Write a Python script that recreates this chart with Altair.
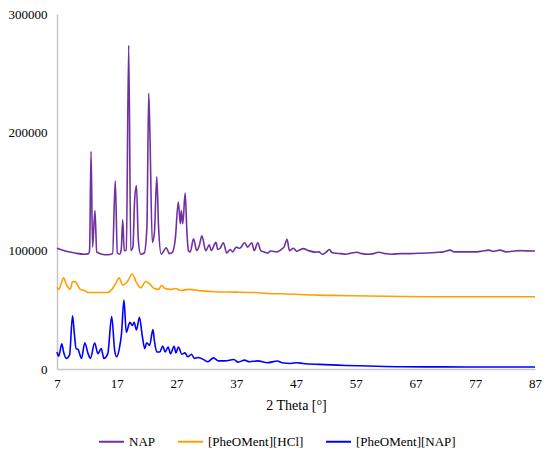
import altair as alt
import pandas as pd

series_names = ["NAP", "[PheOMent][HCl]", "[PheOMent][NAP]"]
series_colors = ["#7030A0", "#FFA000", "#0000FF"]

nap_theta = [7.0, 8.5, 10.0, 11.5, 12.3, 12.45, 12.7, 12.95, 13.35, 13.65, 14.5, 15.5, 16.3, 16.75, 17.1,
             17.5, 17.75, 18.0, 18.25, 18.6, 19.0, 19.35, 19.7, 20.0, 20.3, 20.6, 21.0, 21.6, 22.05, 22.35,
             22.55, 22.95, 23.3, 23.7, 24.0, 24.45, 25.3, 25.8, 26.3, 26.8, 27.3, 27.65, 27.8, 28.05, 28.45,
             28.75, 29.0, 29.3, 29.85, 30.4, 30.8, 31.25, 31.9, 32.5, 32.8, 33.6, 33.9, 34.3, 34.85, 35.4,
             36.0, 36.4, 37.0, 37.6, 38.4, 38.9, 39.6, 40.0, 40.6, 41.1, 41.6, 42.2, 42.8, 43.8, 44.4,
             44.7, 45.0, 45.5, 45.9, 46.6, 47.1, 47.6, 48.2, 49.1, 50.2, 50.8, 51.4, 52.0, 52.6, 53.0,
             53.4, 54.5, 55.3, 56.3, 57.2, 58.0, 59.1, 60.0, 60.8, 62.0, 63.0, 64.5, 65.7, 67.5, 69.0,
             70.5, 71.7, 72.8, 73.4, 75.0, 76.8, 78.0, 79.3, 80.0, 81.1, 82.2, 83.2, 84.4, 85.5, 87.0]
nap_value = [102000, 99500, 98000, 97000, 97500, 100000, 184000, 103000, 134000, 99000, 97000, 96500, 97500, 159000, 98000,
             97000, 101000, 126000, 100000, 100500, 273600, 100000, 103000, 143600, 155000, 110000, 97000, 98000, 120000, 233000,
             199000, 107000, 115000, 162500, 120000, 97000, 102500, 97500, 98500, 110000, 141000, 122700, 134000, 122700, 148600,
             115000, 100000, 99000, 110000, 100000, 104000, 112500, 100000, 105000, 100000, 107000, 101000, 102000, 106700, 98000,
             101000, 99000, 103000, 102000, 106700, 103000, 106700, 100000, 106700, 100000, 99000, 98000, 99700, 99000, 100500,
             101700, 103000, 109700, 100000, 102000, 99500, 100500, 101700, 100000, 98800, 99000, 97000, 98500, 101000, 98500,
             98000, 97500, 97000, 98000, 98600, 97500, 97000, 97500, 98600, 97500, 97000, 97500, 97500, 97800, 98000,
             98500, 99000, 100500, 99000, 99000, 99000, 99500, 100500, 99500, 100500, 99000, 99500, 100000, 99800, 99700]

hcl_theta = [7.0, 7.3, 7.7, 8.1, 8.6, 9.2, 9.6, 10.1, 10.5, 10.9, 11.6, 12.2, 13.7, 15.4, 16.2, 16.8, 17.4,
             18.0, 18.8, 19.6, 20.2, 21.0, 21.85, 22.5, 23.3, 24.0, 24.5, 25.1, 26.0, 26.9, 27.7, 29.1,
             31.3, 33.5, 36.8, 40.1, 42.8, 44.4, 48.2, 53.0, 59.1, 65.0, 70.1, 78.0, 87.0]
hcl_value = [69000, 67300, 72000, 77000, 71000, 67300, 74000, 73500, 70500, 67300, 66400, 64700, 64700, 64700, 67300, 72000, 77000,
             71000, 74000, 80300, 74000, 68600, 74000, 72000, 68000, 67300, 70800, 68000, 67300, 68000, 66400, 67300,
             66000, 65300, 65000, 64700, 63600, 63600, 62800, 62200, 61700, 61300, 61100, 61100, 61100]

mix_theta = [7.0, 7.3, 7.8, 8.1, 8.55, 9.1, 9.6, 9.9, 10.2, 10.5, 11.1, 11.65, 12.2, 12.6, 13.3, 13.85, 14.4,
             14.85, 15.5, 16.15, 16.65, 17.0, 17.45, 17.8, 18.2, 18.6, 19.2, 19.6, 19.9, 20.3, 20.8, 21.3,
             21.7, 22.0, 22.5, 23.05, 23.3, 23.7, 24.2, 24.7, 25.1, 25.6, 26.0, 26.6, 26.9, 27.3, 27.9,
             28.4, 28.9, 29.5, 30.0, 30.6, 31.7, 32.2, 33.2, 34.0, 35.1, 36.6, 37.3, 38.4, 39.2, 40.6,
             42.2, 43.9, 44.7, 46.1, 47.1, 48.2, 50.9, 55.3, 59.1, 64.6, 70.0, 75.5, 87.0]
mix_value = [14400, 10800, 21400, 14400, 9000, 11700, 45000, 30000, 17200, 16700, 9000, 22200, 13000, 9000, 22000, 13000, 17200,
             9000, 13000, 44400, 15800, 10300, 17800, 30000, 58300, 31100, 39400, 36700, 39400, 33000, 43600, 26900,
             17200, 22200, 20000, 33300, 24000, 14400, 14400, 19400, 14400, 18600, 13000, 19200, 13600, 18600, 12500,
             13600, 10300, 12500, 9000, 9700, 7500, 6100, 9400, 6900, 6900, 8000, 5800, 7500, 6100, 6900,
             5300, 6700, 5300, 4700, 5300, 4700, 3900, 3000, 2500, 1900, 1800, 1700, 1700]

rows = []
for name, th, vals in zip(series_names, [nap_theta, hcl_theta, mix_theta], [nap_value, hcl_value, mix_value]):
    for i, (t, v) in enumerate(zip(th, vals)):
        rows.append({"theta": t, "intensity": v, "series": name, "order": i})
df = pd.DataFrame(rows)

x_ticks = [7, 17, 27, 37, 47, 57, 67, 77, 87]
y_ticks = [0, 100000, 200000, 300000]

FONT = "Liberation Serif"

chart = alt.Chart(df).mark_line(strokeWidth=1.6, interpolate="monotone").encode(
    x=alt.X("theta:Q", title="2 Theta [°]",
            scale=alt.Scale(domain=[7, 87], nice=False),
            axis=alt.Axis(values=x_ticks, format="d", grid=False, ticks=False,
                          labelFlush=False, labelPadding=8, domainColor="#C8C8C8", domainWidth=1.5,
                          titlePadding=8, labelFont=FONT, titleFont=FONT)),
    y=alt.Y("intensity:Q", title=None,
            scale=alt.Scale(domain=[0, 300000], nice=False),
            axis=alt.Axis(values=y_ticks, format="d", grid=False, ticks=False,
                          labelFlush=False, labelPadding=10, domainColor="#C8C8C8", domainWidth=1.5,
                          labelFont=FONT)),
    color=alt.Color("series:N", title=None,
                    scale=alt.Scale(domain=series_names, range=series_colors),
                    sort=series_names,
                    legend=alt.Legend(orient="none", legendX=41, legendY=414, direction="horizontal",
                                      symbolType="stroke", symbolSize=625, symbolStrokeWidth=2,
                                      columnPadding=18, labelFontSize=13, labelFont=FONT)),
    detail="series:N",
    order="order:Q",
).properties(width=478, height=355, padding=0).configure(font=FONT).configure_view(stroke=None).configure_axis(
    labelFontSize=13, titleFontSize=14,
    labelColor="#000000", titleColor="#000000", titleFontWeight="normal"
).configure_legend(labelColor="#000000")

chart.save("out.html", embed_options={"renderer": "svg", "actions": False})
